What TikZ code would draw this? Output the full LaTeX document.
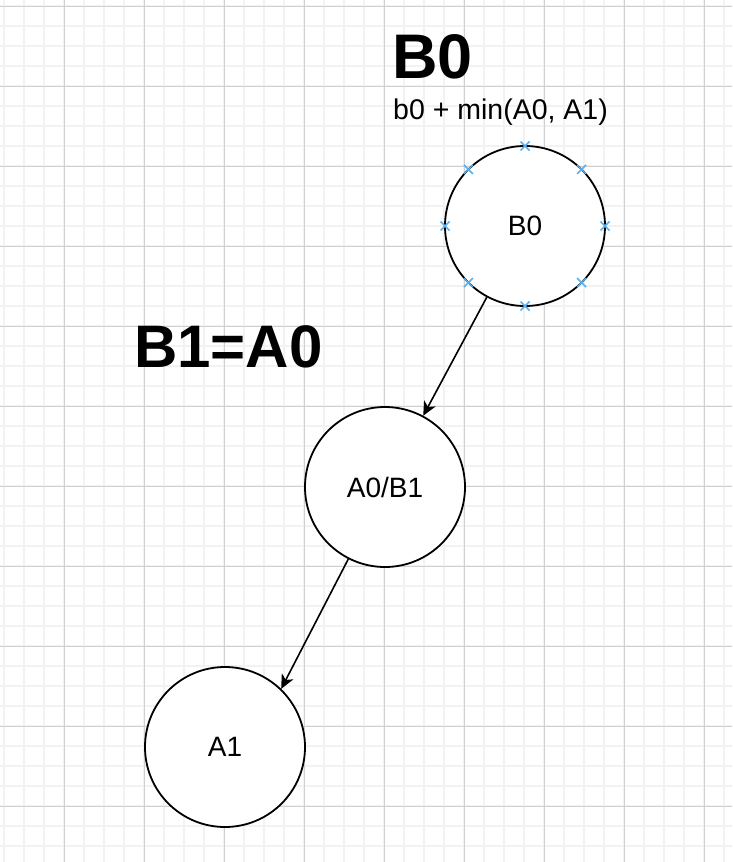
\documentclass[tikz,border=0pt]{standalone}
\usepackage{fontspec}
\setmainfont{Liberation Sans}
\usetikzlibrary{arrows.meta,calc}
\definecolor{minorgrid}{HTML}{F2F2F2}
\definecolor{majorgrid}{HTML}{D0D0D0}
\definecolor{markblue}{HTML}{5AAFEF}
\tikzset{
  circnode/.style={circle, draw=black, line width=1.8pt, fill=white, minimum size=160pt, inner sep=0pt, font=\fontsize{28}{33}\selectfont},
  bigtitle/.style={inner sep=0pt, anchor=base west, font=\fontsize{60}{72}\selectfont\bfseries},
  subtitle/.style={inner sep=0pt, anchor=base west, font=\fontsize{28.5}{34}\selectfont},
  conn/.style={draw=black, line width=1.6pt, -{Stealth[length=14pt,width=13pt,inset=4pt]}},
  mk/.style={draw=markblue, line width=1.5pt}
}
\begin{document}
\begin{tikzpicture}[x=1pt,y=-1pt]
\useasboundingbox (0,0) rectangle (732,862);
\fill[white] (0,0) rectangle (732,862);
\begin{scope}
\clip (0,0) rectangle (732,862);
% minor grid
\foreach \i in {0,...,37} {
  \draw[minorgrid, line width=1.5pt] (4+20*\i,0) -- (4+20*\i,862);
}
\foreach \j in {0,...,43} {
  \draw[minorgrid, line width=1.5pt] (0,6+20*\j) -- (732,6+20*\j);
}
% major grid
\foreach \i in {0,...,9} {
  \draw[majorgrid, line width=1pt] (64+80*\i,0) -- (64+80*\i,862);
}
\foreach \j in {0,...,10} {
  \draw[majorgrid, line width=1pt] (0,6+80*\j) -- (732,6+80*\j);
}
\end{scope}

% nodes
\node[circnode] (b0) at (525,226) {B0};
\node[circnode] (a0b1) at (385,487) {A0/B1};
\node[circnode] (a1) at (225,747) {A1};

% titles
\node[bigtitle, font=\fontsize{63}{75}\selectfont\bfseries] (t0) at (392,78) {B0};
\node[subtitle] (s0) at (393,119) {b0 + min(A0, A1)};
\node[bigtitle] (t1) at (134,367) {B1=A0};

% connectors
\draw[conn] (b0) -- (a0b1);
\draw[conn] (a0b1.243) -- (a1.46);

% connection point markers
\foreach \a in {0,45,...,315} {
  \coordinate (m\a) at ($(b0.center)+(\a:80pt)$);
  \draw[mk] ($(m\a)+(-4.5pt,-4.5pt)$) -- ++(9pt,9pt);
  \draw[mk] ($(m\a)+(-4.5pt,4.5pt)$) -- ++(9pt,-9pt);
}
\end{tikzpicture}
\end{document}
